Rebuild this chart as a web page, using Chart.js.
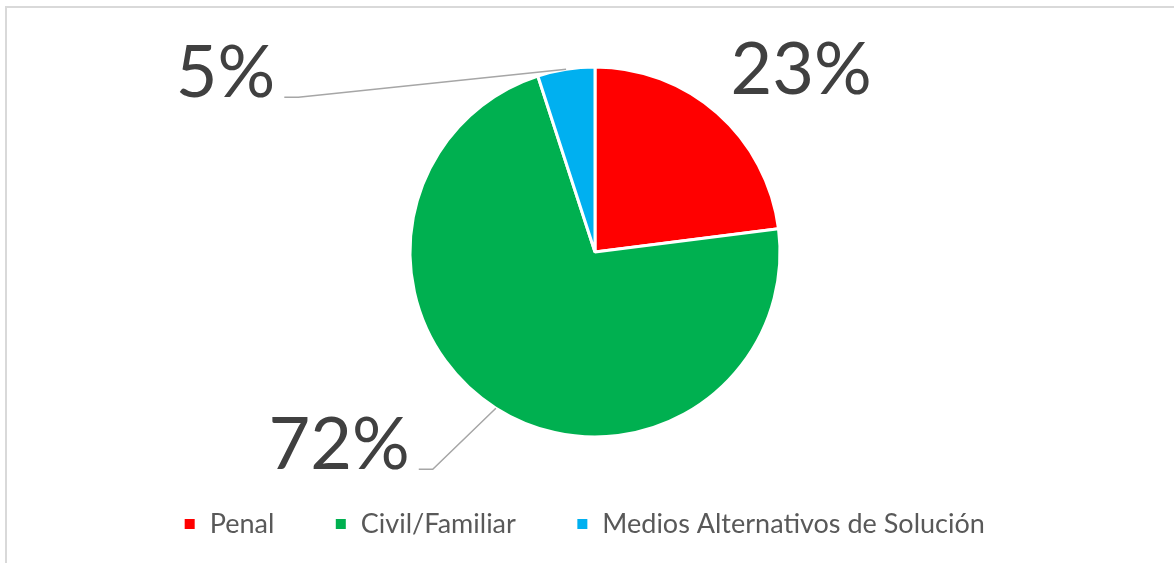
<!DOCTYPE html>
<html>
<head>
<meta charset="utf-8">
<script src="https://cdn.jsdelivr.net/npm/chart.js@4"></script>
<style>
    html, body { margin: 0; padding: 0; background: #fff; overflow: hidden; }
    #wrap { position: relative; width: 1174px; height: 563px; }
    #frame { position: absolute; left: 5px; top: 6px; width: 1200px; height: 600px; border: 2px solid #d9d9d9; box-sizing: border-box; }
    #chart { position: absolute; left: 0; top: 0; }
</style>
</head>
<body>
<div id="wrap">
    <div id="frame"></div>
    <canvas id="chart" width="1174" height="563"></canvas>
</div>
<script>
const categories = ['Penal', 'Civil/Familiar', 'Medios Alternativos de Solución'];
const shares = [23, 72, 5];
const sliceColors = ['#FF0000', '#00B050', '#00B0F0'];

// where each percentage label sits, in units of the pie radius from the centre
const labelSpots = [
    { dx: 1.114, dy: -0.853, leader: false },
    { dx: -1.383, dy: 1.174, leader: true },
    { dx: -1.997, dy: -0.837, leader: true }
];

const pctLabels = {
    id: 'pctLabels',
    afterDatasetsDraw(chart, args, opts) {
        const ctx = chart.ctx;
        const arcs = chart.getDatasetMeta(0).data;
        const total = shares.reduce((a, b) => a + b, 0);
        ctx.save();
        ctx.font = '72px Lato';
        ctx.fillStyle = '#404040';
        ctx.textAlign = 'center';
        ctx.textBaseline = 'alphabetic';
        arcs.forEach((arc, i) => {
            const spot = opts.spots[i];
            const r = arc.outerRadius;
            const text = Math.round(shares[i] / total * 100) + '%';
            const tx = arc.x + spot.dx * r;
            const ty = arc.y + spot.dy * r;
            ctx.fillText(text, tx, ty);
            if (spot.leader) {
                const w = ctx.measureText(text).width;
                const mid = (arc.startAngle + arc.endAngle) / 2;
                const ex = arc.x + Math.cos(mid) * r;
                const ey = arc.y + Math.sin(mid) * r;
                const lx = tx + w / 2 + 9;
                ctx.beginPath();
                ctx.strokeStyle = '#a6a6a6';
                ctx.lineWidth = 1.5;
                ctx.moveTo(ex, ey);
                ctx.lineTo(lx + 14, ty);
                ctx.lineTo(lx, ty);
                ctx.stroke();
            }
        });
        ctx.restore();
    }
};

// legend sits a little left of the pie centre in the original
const legendNudge = {
    id: 'legendNudge',
    afterLayout(chart, args, opts) {
        const lg = chart.legend;
        lg.left += opts.dx;
        lg.right += opts.dx;
    }
};

new Chart(document.getElementById('chart'), {
    type: 'pie',
    data: {
        labels: categories,
        datasets: [{
            data: shares,
            backgroundColor: sliceColors,
            borderColor: '#ffffff',
            borderWidth: 3,
            radius: 185
        }]
    },
    options: {
        responsive: false,
        animation: false,
        layout: { padding: { left: 16, right: 0, top: 53.5, bottom: 15.5 } },
        plugins: {
            legend: {
                position: 'bottom',
                labels: {
                    boxWidth: 13,
                    boxHeight: 13,
                    padding: 60,
                    color: '#595959',
                    font: { family: 'Lato', size: 27 }
                }
            },
            tooltip: { enabled: false },
            pctLabels: { spots: labelSpots },
            legendNudge: { dx: -11 }
        }
    },
    plugins: [pctLabels, legendNudge]
});
</script>
</body>
</html>
